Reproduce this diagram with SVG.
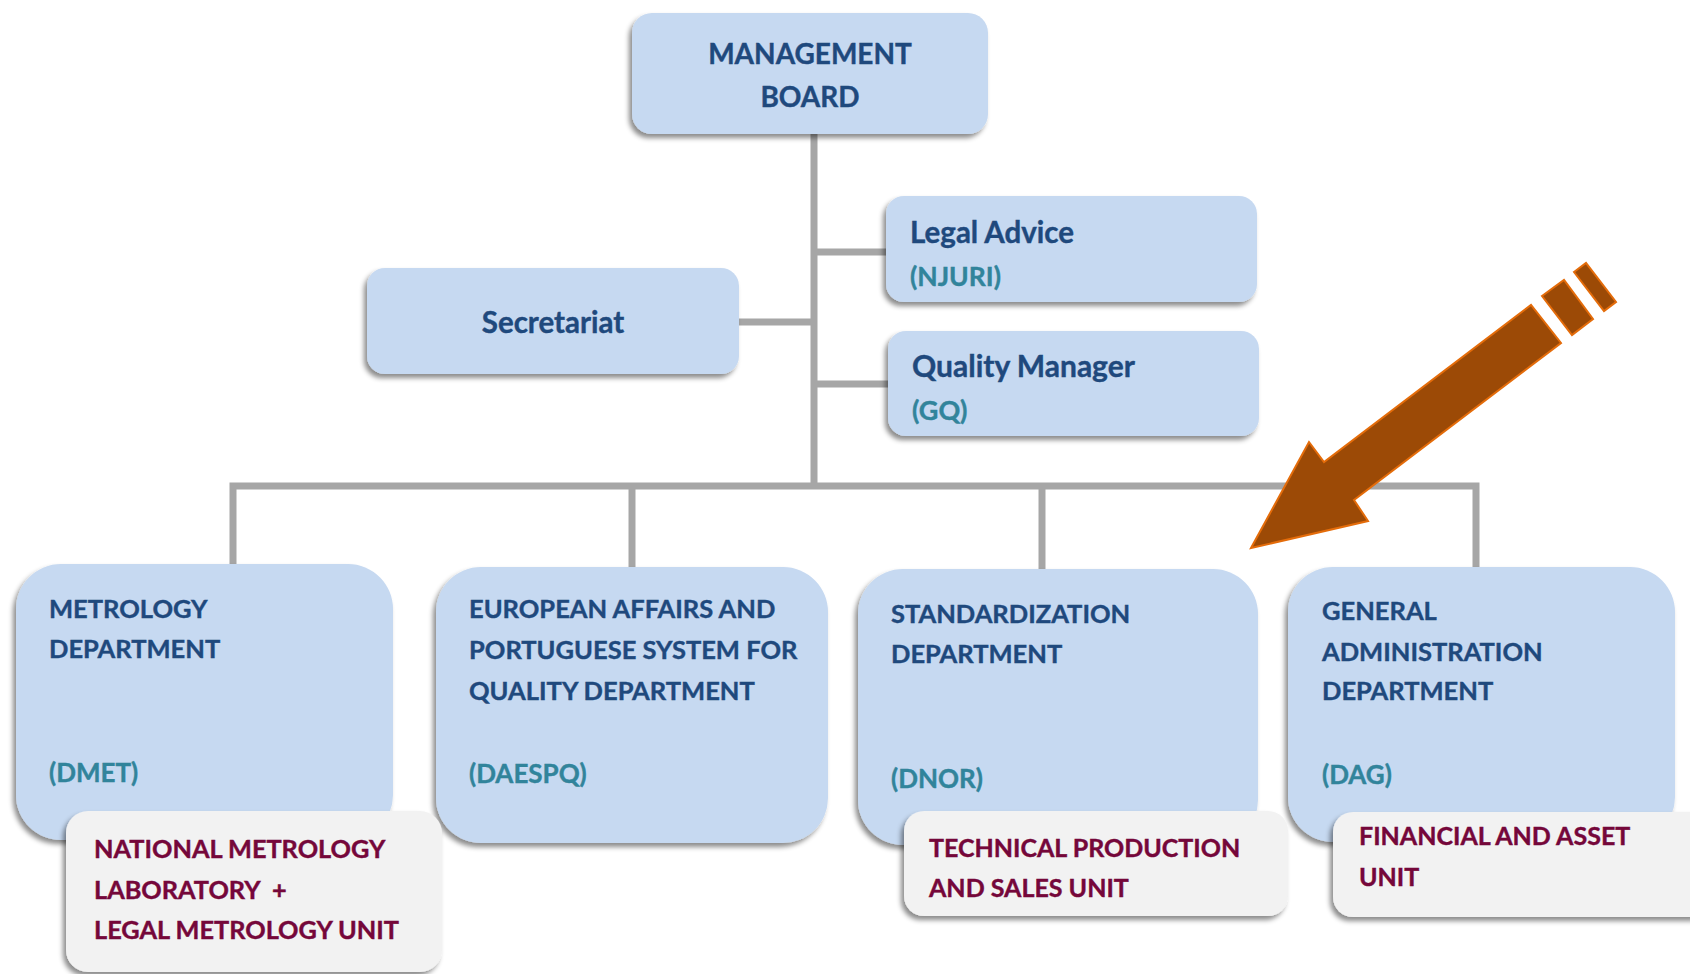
<svg xmlns="http://www.w3.org/2000/svg" width="1690" height="974" viewBox="0 0 1690 974">
<defs>
<filter id="sh" x="-10%" y="-10%" width="120%" height="130%">
<feDropShadow dx="-3" dy="4" stdDeviation="2.5" flood-color="#000" flood-opacity="0.45"/>
</filter>
<style>
.box{fill:#c6d9f1;filter:url(#sh);}
.sub{fill:#f2f2f2;filter:url(#sh);}
.t{font-family:Lato,"Open Sans","Liberation Sans",sans-serif;font-weight:bold;fill:#1f497d;stroke:#1f497d;stroke-width:0.4;}
.c{font-family:Lato,"Open Sans","Liberation Sans",sans-serif;font-weight:bold;fill:#31849b;stroke:#31849b;stroke-width:0.4;}
.m{font-family:Lato,"Open Sans","Liberation Sans",sans-serif;font-weight:bold;fill:#75073a;stroke:#75073a;stroke-width:0.4;}
.ln{stroke:#a6a6a6;stroke-width:7;fill:none;}
</style>
</defs>
<rect width="1690" height="974" fill="#ffffff"/>
<g id="connectors">
<line class="ln" x1="814" y1="130" x2="814" y2="488"/>
<line class="ln" x1="814" y1="252" x2="890" y2="252"/>
<line class="ln" x1="814" y1="384" x2="890" y2="384"/>
<line class="ln" x1="736" y1="322" x2="814" y2="322"/>
<polyline class="ln" points="233,570 233,486 1476,486 1476,570"/>
<line class="ln" x1="632" y1="486" x2="632" y2="570"/>
<line class="ln" x1="1042" y1="486" x2="1042" y2="570"/>
</g>
<g id="management-board">
<rect class="box" x="632" y="13" width="356" height="121" rx="20"/>
<text class="t" x="810" y="64" font-size="28" text-anchor="middle">MANAGEMENT</text>
<text class="t" x="810" y="107" font-size="28" text-anchor="middle">BOARD</text>
</g>
<g id="legal-advice">
<rect class="box" x="886" y="196" width="371" height="106" rx="18"/>
<text class="t" x="910" y="243" font-size="29.5">Legal Advice</text>
<text class="c" x="910" y="286" font-size="26.5">(NJURI)</text>
</g>
<g id="quality-manager">
<rect class="box" x="888" y="331" width="371" height="105" rx="18"/>
<text class="t" x="912" y="377" font-size="30">Quality Manager</text>
<text class="c" x="912" y="420" font-size="27">(GQ)</text>
</g>
<g id="secretariat">
<rect class="box" x="367" y="268" width="372" height="106" rx="18"/>
<text class="t" x="553" y="333" font-size="29.5" text-anchor="middle">Secretariat</text>
</g>
<g id="dmet">
<rect class="box" x="16" y="564" width="377" height="276" rx="45"/>
<text class="t" x="49" y="618" font-size="25.5">METROLOGY</text>
<text class="t" x="49" y="658" font-size="25.5">DEPARTMENT</text>
<text class="c" x="49" y="782" font-size="26">(DMET)</text>
</g>
<g id="daespq">
<rect class="box" x="436" y="567" width="392" height="276" rx="45"/>
<text class="t" x="469" y="618" font-size="25.5">EUROPEAN AFFAIRS AND</text>
<text class="t" x="469" y="659" font-size="25.5">PORTUGUESE SYSTEM FOR</text>
<text class="t" x="469" y="700" font-size="25.5">QUALITY DEPARTMENT</text>
<text class="c" x="469" y="783" font-size="26">(DAESPQ)</text>
</g>
<g id="dnor">
<rect class="box" x="858" y="569" width="400" height="276" rx="45"/>
<text class="t" x="891" y="623" font-size="25.5">STANDARDIZATION</text>
<text class="t" x="891" y="663" font-size="25.5">DEPARTMENT</text>
<text class="c" x="891" y="788" font-size="26">(DNOR)</text>
</g>
<g id="dag">
<rect class="box" x="1288" y="567" width="387" height="275" rx="45"/>
<text class="t" x="1322" y="620" font-size="25.5">GENERAL</text>
<text class="t" x="1322" y="661" font-size="25.5">ADMINISTRATION</text>
<text class="t" x="1322" y="700" font-size="25.5">DEPARTMENT</text>
<text class="c" x="1322" y="784" font-size="26">(DAG)</text>
</g>
<g id="nml-unit">
<rect class="sub" x="66" y="811" width="376" height="161" rx="22"/>
<text class="m" x="94" y="858" font-size="25.3">NATIONAL METROLOGY</text>
<text class="m" x="94" y="899" font-size="25.3" xml:space="preserve">LABORATORY  +</text>
<text class="m" x="94" y="939" font-size="25.3">LEGAL METROLOGY UNIT</text>
</g>
<g id="tps-unit">
<rect class="sub" x="904" y="811" width="384" height="105" rx="20"/>
<text class="m" x="929" y="857" font-size="25">TECHNICAL PRODUCTION</text>
<text class="m" x="929" y="897" font-size="25">AND SALES UNIT</text>
</g>
<g id="fa-unit">
<rect class="sub" x="1333" y="812" width="380" height="105" rx="20"/>
<text class="m" x="1359" y="845" font-size="25">FINANCIAL AND ASSET</text>
<text class="m" x="1359" y="886" font-size="25">UNIT</text>
</g>
<g id="arrow" fill="#9c4a06" stroke="#e46c0a" stroke-width="2" stroke-linejoin="miter">
<polygon points="1251,548 1309,442 1324,462 1531,305 1561,343 1354,500 1368,521"/>
<polygon points="1542,296 1564,280 1593,319 1572,335"/>
<polygon points="1574,272 1586,263 1616,302 1604,311"/>
</g>
</svg>
